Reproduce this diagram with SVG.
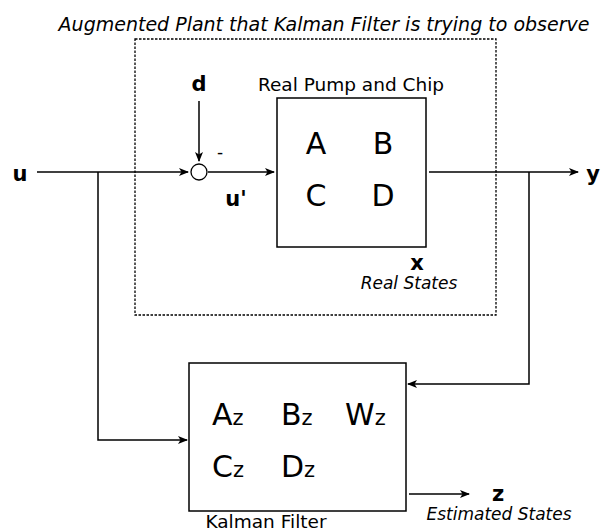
<svg xmlns="http://www.w3.org/2000/svg" width="607" height="531" viewBox="0 0 607 531">
<style>
text{font-family:"DejaVu Sans",Verdana,sans-serif;fill:#000}
.ln{stroke:#000;stroke-width:1.5;fill:none}
.box{stroke:#000;stroke-width:1.5;fill:#fff}
.big{font-size:30px}
.sub{font-size:21px}
.b{font-weight:bold;font-size:21px}
.it{font-style:italic;font-size:17px}
.lbl{font-size:18.5px}
</style>
<defs>
<marker id="ah" markerWidth="10" markerHeight="8" refX="9" refY="4" orient="auto" markerUnits="userSpaceOnUse">
<path d="M0,0 L10,4 L0,8 L2.5,4 Z" fill="#000"/>
</marker>
</defs>
<text x="324" y="31" text-anchor="middle" style="font-style:italic;font-size:19px">Augmented Plant that Kalman Filter is trying to observe</text>
<g id="plant">
<rect x="135" y="39" width="361" height="276" fill="none" stroke="#000" stroke-width="1.3" stroke-dasharray="2.5,1.5"/>
</g>
<g id="connectors">
<path class="ln" d="M37,172 H188" marker-end="url(#ah)"/>
<path class="ln" d="M199,101 V161" marker-end="url(#ah)"/>
<path class="ln" d="M208,172 H274" marker-end="url(#ah)"/>
<path class="ln" d="M429,172 H578" marker-end="url(#ah)"/>
<path class="ln" d="M98,172 V440 H187" marker-end="url(#ah)"/>
<path class="ln" d="M529,172 V384 H408" marker-end="url(#ah)"/>
<path class="ln" d="M409,494 H469" marker-end="url(#ah)"/>
</g>
<g id="sum">
<circle cx="199" cy="172" r="8" fill="#fff" stroke="#000" stroke-width="1.3"/>
<text x="217" y="158" style="font-size:17px">-</text>
</g>
<g id="labels">
<text x="20" y="181" class="b" text-anchor="middle">u</text>
<text x="199" y="91" class="b" text-anchor="middle">d</text>
<text x="236" y="206" class="b" text-anchor="middle">u'</text>
<text x="593" y="181" class="b" text-anchor="middle">y</text>
</g>
<g id="real">
<rect class="box" x="277" y="98" width="149" height="149"/>
<text x="351" y="91" text-anchor="middle" class="lbl">Real Pump and Chip</text>
<text x="316" y="154" class="big" text-anchor="middle">A</text>
<text x="383" y="154" class="big" text-anchor="middle">B</text>
<text x="316" y="206" class="big" text-anchor="middle">C</text>
<text x="383" y="206" class="big" text-anchor="middle">D</text>
<text x="417" y="270" class="b" text-anchor="middle">x</text>
<text x="409" y="289" class="it" text-anchor="middle">Real States</text>
</g>
<g id="kalman">
<rect class="box" x="189" y="363" width="217" height="148"/>
<text x="212" y="425"><tspan class="big">A</tspan><tspan class="sub">z</tspan></text>
<text x="281" y="425"><tspan class="big">B</tspan><tspan class="sub">z</tspan></text>
<text x="345" y="425"><tspan class="big">W</tspan><tspan class="sub">z</tspan></text>
<text x="212" y="477"><tspan class="big">C</tspan><tspan class="sub">z</tspan></text>
<text x="281" y="477"><tspan class="big">D</tspan><tspan class="sub">z</tspan></text>
<text x="266" y="528" text-anchor="middle" class="lbl">Kalman Filter</text>
<text x="498" y="501" class="b" text-anchor="middle">z</text>
<text x="499" y="520" class="it" text-anchor="middle">Estimated States</text>
</g>
</svg>
